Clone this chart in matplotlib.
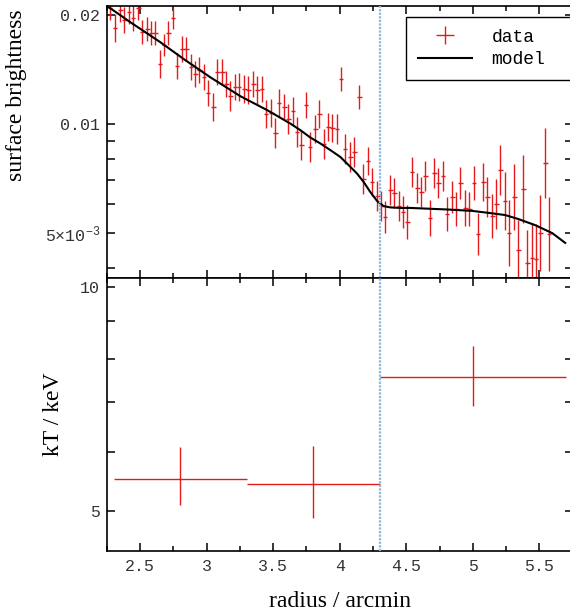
import matplotlib
matplotlib.use('Agg')
import numpy as np
import matplotlib.pyplot as plt

# surface brightness profile (radius in arcmin)
sb_x = [2.274, 2.312, 2.350, 2.380, 2.414, 2.447, 2.485, 2.515, 2.553, 2.583,
        2.613, 2.650, 2.680, 2.711, 2.748, 2.778, 2.816, 2.846, 2.883, 2.914,
        2.944, 2.981, 3.011, 3.049, 3.079, 3.117, 3.147, 3.177, 3.214, 3.244,
        3.282, 3.312, 3.350, 3.380, 3.417, 3.447, 3.485, 3.515, 3.545, 3.583,
        3.613, 3.650, 3.680, 3.711, 3.748, 3.778, 3.816, 3.846, 3.883, 3.914,
        3.944, 3.981, 4.011, 4.041, 4.079, 4.109, 4.147, 4.177, 4.214, 4.244,
        4.282, 4.312, 4.342, 4.380, 4.410, 4.447, 4.477, 4.508, 4.545, 4.583,
        4.613, 4.643, 4.680, 4.711, 4.741, 4.778, 4.808, 4.846, 4.876, 4.906,
        4.944, 4.974, 5.011, 5.041, 5.079, 5.109, 5.147, 5.177, 5.207, 5.244,
        5.274, 5.312, 5.342, 5.380, 5.410, 5.447, 5.477, 5.508, 5.545, 5.575]
sb_y = [0.02091, 0.01841, 0.02065, 0.01937, 0.02038, 0.01962, 0.02091, 0.01795, 0.01830, 0.01784,
        0.01784, 0.01465, 0.01653, 0.01784, 0.01962, 0.01446, 0.01611, 0.01611, 0.01437, 0.01374,
        0.01410, 0.01348, 0.01218, 0.01114, 0.01392, 0.01392, 0.01290, 0.01195, 0.01265, 0.01265,
        0.01249, 0.01241, 0.01290, 0.01241, 0.01249, 0.01066, 0.01072, 0.00944, 0.01143, 0.01114,
        0.01032, 0.01086, 0.00950, 0.00876, 0.01128, 0.00864, 0.00969, 0.01066, 0.00881, 0.00981,
        0.00975, 0.00969, 0.01331, 0.00853, 0.00811, 0.00837, 0.01187, 0.00705, 0.00791, 0.00692,
        0.00633, 0.00594, 0.00553, 0.00657, 0.00645, 0.00594, 0.00571, 0.00536, 0.00737, 0.00666,
        0.00649, 0.00718, 0.00550, 0.00732, 0.00687, 0.00718, 0.00564, 0.00629, 0.00582, 0.00687,
        0.00586, 0.00582, 0.00687, 0.00497, 0.00692, 0.00629, 0.00557, 0.00601, 0.00747, 0.00613,
        0.00500, 0.00629, 0.00449, 0.00661, 0.00413, 0.00427, 0.00424, 0.00500, 0.00781, 0.00497]
# fractional errors
sb_relerr = [0.079, 0.093, 0.079, 0.086, 0.079, 0.086, 0.079, 0.079, 0.079, 0.079,
             0.079, 0.093, 0.072, 0.079, 0.072, 0.086, 0.086, 0.079, 0.086, 0.086,
             0.086, 0.086, 0.086, 0.093, 0.086, 0.086, 0.086, 0.100, 0.086, 0.093,
             0.093, 0.093, 0.086, 0.093, 0.086, 0.093, 0.093, 0.100, 0.093, 0.086,
             0.100, 0.093, 0.100, 0.100, 0.086, 0.100, 0.093, 0.093, 0.100, 0.093,
             0.093, 0.100, 0.079, 0.100, 0.100, 0.100, 0.079, 0.100, 0.093, 0.093,
             0.100, 0.100, 0.107, 0.100, 0.100, 0.100, 0.107, 0.114, 0.100, 0.100,
             0.100, 0.100, 0.121, 0.100, 0.100, 0.100, 0.114, 0.107, 0.114, 0.107,
             0.121, 0.114, 0.114, 0.143, 0.128, 0.136, 0.150, 0.172, 0.172, 0.202,
             0.233, 0.233, 0.210, 0.241, 0.233, 0.249, 0.249, 0.273, 0.249, 0.265]
sb_xerr = 0.017

# model curve
model_x = [2.252, 2.425, 2.650, 2.838, 3.026, 3.252, 3.455, 3.628, 3.703, 3.778,
           3.853, 3.929, 4.004, 4.066, 4.129, 4.179, 4.229, 4.280, 4.329, 4.380,
           4.455, 4.530, 4.816, 4.996, 5.132, 5.244, 5.342, 5.470, 5.598, 5.695]
model_y = [0.02118, 0.01913, 0.01685, 0.01503, 0.01348, 0.01195, 0.01093, 0.01004, 0.00963, 0.00919,
           0.00885, 0.00848, 0.00812, 0.00771, 0.00731, 0.00693, 0.00650, 0.00614, 0.00594, 0.00589,
           0.00587, 0.00587, 0.00581, 0.00576, 0.00568, 0.00561, 0.00547, 0.00526, 0.00500, 0.00470]

# temperature profile
kt_x = [2.8, 3.8, 5.0]
kt_xerr = [0.5, 0.5, 0.7]
kt_y = [5.52, 5.43, 7.58]
kt_lo = [0.43, 0.54, 0.66]
kt_hi = [0.58, 0.68, 0.76]

shock_r = 4.3

sb_ticks = [0.005, 0.01, 0.02]
sb_ticklabels = ['5×10$^{-3}$', '0.01', '0.02']
kt_ticks = [5, 10]
kt_ticklabels = ['5', '10']
r_ticks = [2.5, 3, 3.5, 4, 4.5, 5, 5.5]
r_ticklabels = ['2.5', '3', '3.5', '4', '4.5', '5', '5.5']

mono = 'Liberation Mono'
serif = 'Liberation Serif'
plt.rcParams['mathtext.fontset'] = 'custom'
plt.rcParams['mathtext.rm'] = mono
plt.rcParams['mathtext.it'] = mono
plt.rcParams['axes.linewidth'] = 1.2

red = '#e41a1c'
blue = '#8ab8e0'

fig = plt.figure(figsize=(5.7, 6.12), dpi=100)
ax1 = fig.add_axes([0.1877, 0.5458, 0.8167, 0.4444])
ax2 = fig.add_axes([0.1877, 0.0997, 0.8167, 0.4461], sharex=ax1)

sb_y_a = np.array(sb_y)
rel = np.array(sb_relerr)
sb_lo = sb_y_a - sb_y_a / (1 + rel)
sb_hi = sb_y_a * rel
h_data = ax1.errorbar(sb_x, sb_y, xerr=sb_xerr, yerr=[sb_lo, sb_hi], fmt='none',
                      ecolor=red, elinewidth=1.0, label='data', zorder=2)
h_model, = ax1.plot(model_x, model_y, color='black', lw=1.5, label='model', zorder=3)
ax1.axvline(shock_r, color=blue, lw=1.6, ls=(0, (1, 0.6)), zorder=4)

ax2.errorbar(kt_x, kt_y, xerr=kt_xerr, yerr=[kt_lo, kt_hi], fmt='none',
             ecolor=red, elinewidth=1.0, zorder=2)
ax2.axvline(shock_r, color=blue, lw=1.6, ls=(0, (1, 0.6)), zorder=4)

ax1.set_yscale('log')
ax2.set_yscale('log')
ax1.set_xlim(2.25, 5.75)
ax1.set_ylim(0.00376, 0.0212)
ax2.set_ylim(4.41, 10.3)

ax1.set_yticks(sb_ticks, sb_ticklabels)
ax1.set_yticks([0.004, 0.006, 0.007, 0.008, 0.009], minor=True)
ax1.yaxis.set_minor_formatter(plt.NullFormatter())
ax2.set_yticks(kt_ticks, kt_ticklabels)
ax2.set_yticks([6, 7, 8, 9], minor=True)
ax2.yaxis.set_minor_formatter(plt.NullFormatter())
ax2.set_xticks(r_ticks, r_ticklabels)
ax2.set_xticks(np.arange(2.25, 5.76, 0.25), minor=True)
plt.setp(ax1.get_xticklabels(), visible=False)

for ax in (ax1, ax2):
    ax.tick_params(which='both', direction='in', top=True, right=True,
                   labelsize=12, labelcolor='#333333', width=1.1)
    ax.tick_params(axis='y', which='both', length=6, pad=5)
    ax.tick_params(axis='x', which='major', length=5.8, pad=6)
    ax.tick_params(axis='x', which='minor', length=3.6)
    for lab in ax.get_xticklabels() + ax.get_yticklabels():
        lab.set_family(mono)

ax1.set_ylabel('surface brightness', family=serif, fontsize=17)
ax1.yaxis.set_label_coords(-0.172, 0.673)
ax2.set_ylabel('kT / keV', family=serif, fontsize=17)
ax2.yaxis.set_label_coords(-0.092, 0.5)
ax2.set_xlabel('radius / arcmin', family=serif, fontsize=17)
ax2.xaxis.set_label_coords(0.5, -0.145)

leg = ax1.legend([h_data, h_model], ['data', 'model'],
                 loc='upper left', bbox_to_anchor=(0.642, 0.728, 0.37, 0.2316),
                 mode='expand', borderaxespad=0, fancybox=False, framealpha=1,
                 edgecolor='black', prop={'family': mono, 'size': 13},
                 handlelength=3.0, handletextpad=1.1, borderpad=0.65,
                 labelspacing=0.3)
leg.get_frame().set_linewidth(1.0)

plt.savefig('out.png', dpi=100)
